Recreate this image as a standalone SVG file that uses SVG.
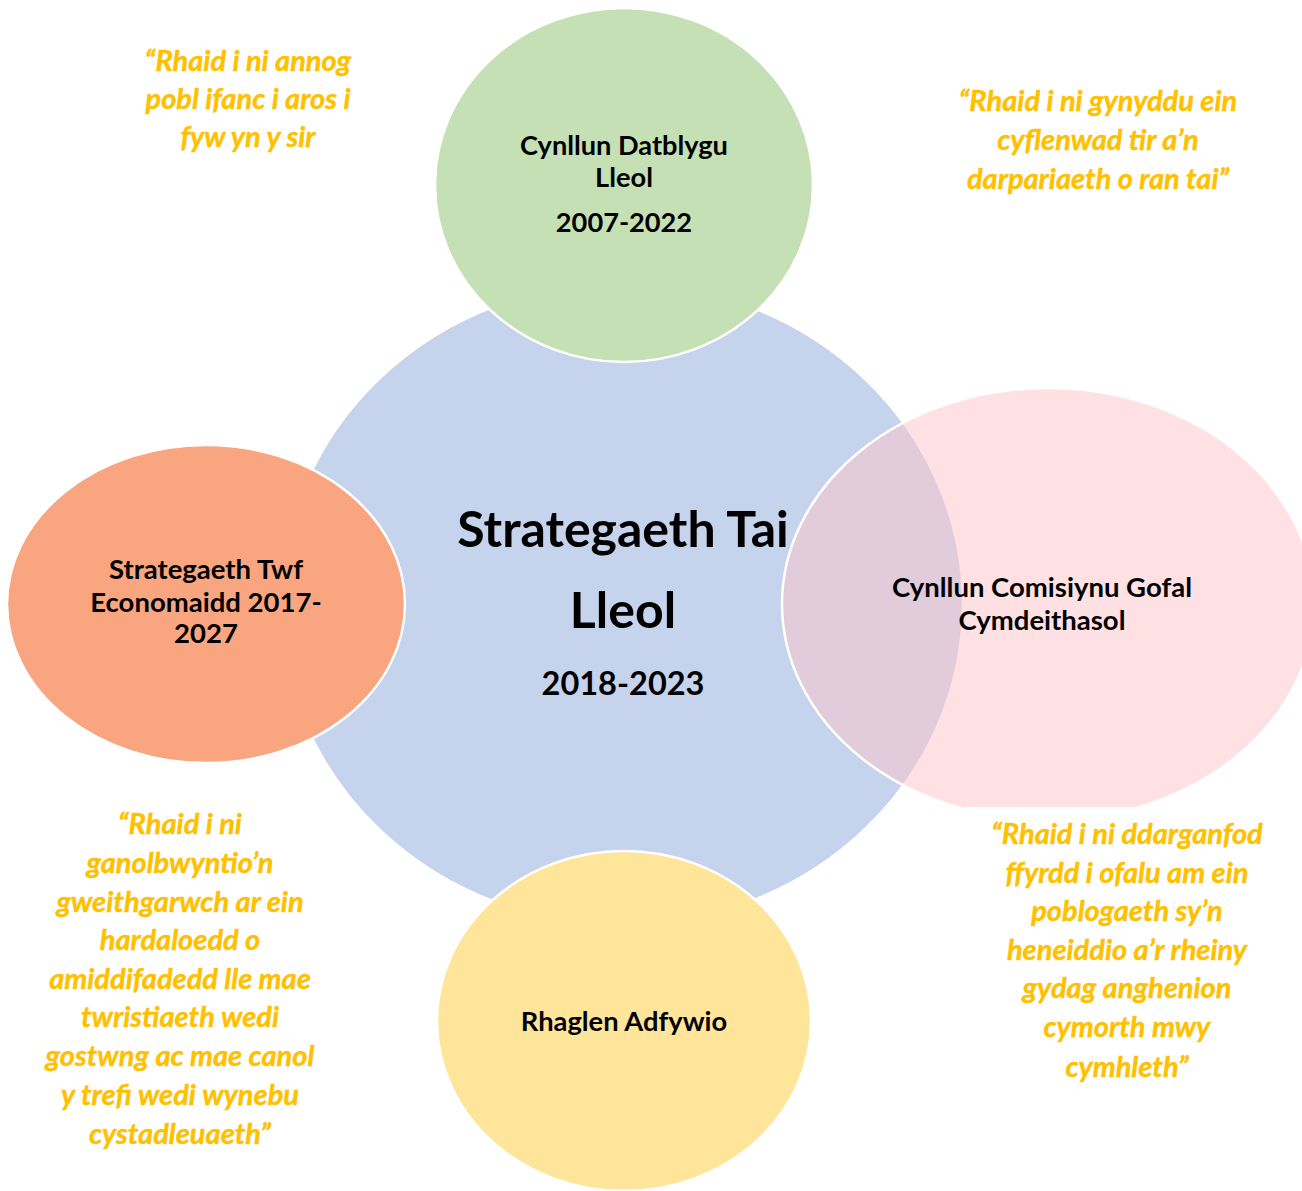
<svg xmlns="http://www.w3.org/2000/svg" width="1302" height="1191" viewBox="0 0 1302 1191">
<defs>
<style>
.node{stroke:#FFFFFF;stroke-width:2.5}
.lbl{font-family:Lato,"Open Sans","DejaVu Sans",sans-serif;font-weight:bold;fill:#000000;text-anchor:middle}
.q{font-family:Lato,"Open Sans","DejaVu Sans",sans-serif;font-weight:bold;font-style:italic;fill:#FFC000;text-anchor:middle;font-size:29px;stroke:#FFC000;stroke-width:0.4}
</style>
<clipPath id="cutPink"><path d="M0,0 H1302 V807 H965 V1191 H0 Z"/></clipPath>
</defs>
<rect width="1302" height="1191" fill="#FFFFFF"/>
<g id="connectors"></g>
<g id="node-central">
<ellipse class="node" cx="622" cy="604" rx="341" ry="321" fill="#C5D3ED" stroke="none"/>
<text class="lbl" x="623" y="547" font-size="50">Strategaeth Tai</text>
<text class="lbl" x="623" y="628" font-size="50">Lleol</text>
<text class="lbl" x="623" y="695" font-size="32.5">2018-2023</text>
</g>
<g id="node-ldp">
<ellipse class="node" cx="624" cy="185" rx="189" ry="177" fill="#C5E0B4"/>
<text class="lbl" x="624" y="155" font-size="27.2">Cynllun Datblygu</text>
<text class="lbl" x="624" y="187" font-size="27.2">Lleol</text>
<text class="lbl" x="624" y="232" font-size="27.2">2007-2022</text>
</g>
<g id="node-economic">
<ellipse class="node" cx="206" cy="604" rx="199" ry="159" fill="#F8A580"/>
<text class="lbl" x="206" y="579" font-size="27.5">Strategaeth Twf</text>
<text class="lbl" x="206" y="612" font-size="27.5">Economaidd 2017-</text>
<text class="lbl" x="206" y="643" font-size="27.5">2027</text>
</g>
<g id="node-regen">
<ellipse class="node" cx="624" cy="1021" rx="187" ry="170" fill="#FFE599"/>
<text class="lbl" x="624" y="1031" font-size="27.3">Rhaglen Adfywio</text>
</g>
<g id="node-social">
<ellipse class="node" cx="1048" cy="604" rx="266" ry="216" fill="#FFC4C8" fill-opacity="0.5" clip-path="url(#cutPink)"/>
<text class="lbl" x="1042" y="597" font-size="27.5">Cynllun Comisiynu Gofal</text>
<text class="lbl" x="1042" y="630" font-size="27.5">Cymdeithasol</text>
</g>
<g id="quote-topleft">
<text class="q" x="248" y="71">“Rhaid i ni annog</text>
<text class="q" x="248" y="109">pobl ifanc i aros i</text>
<text class="q" x="248" y="147">fyw yn y sir</text>
</g>
<g id="quote-topright">
<text class="q" x="1098" y="111">“Rhaid i ni gynyddu ein</text>
<text class="q" x="1098" y="150">cyflenwad tir a’n</text>
<text class="q" x="1098" y="189">darpariaeth o ran tai”</text>
</g>
<g id="quote-bottomleft">
<text class="q" x="180" y="834">“Rhaid i ni</text>
<text class="q" x="180" y="873">ganolbwyntio’n</text>
<text class="q" x="180" y="912">gweithgarwch ar ein</text>
<text class="q" x="180" y="950">hardaloedd o</text>
<text class="q" x="180" y="989">amiddifadedd lle mae</text>
<text class="q" x="180" y="1027">twristiaeth wedi</text>
<text class="q" x="180" y="1066">gostwng ac mae canol</text>
<text class="q" x="180" y="1105">y trefi wedi wynebu</text>
<text class="q" x="180" y="1144">cystadleuaeth”</text>
</g>
<g id="quote-bottomright">
<text class="q" x="1127" y="844">“Rhaid i ni ddarganfod</text>
<text class="q" x="1127" y="883">ffyrdd i ofalu am ein</text>
<text class="q" x="1127" y="921">poblogaeth sy’n</text>
<text class="q" x="1127" y="960">heneiddio a’r rheiny</text>
<text class="q" x="1127" y="998">gydag anghenion</text>
<text class="q" x="1127" y="1037">cymorth mwy</text>
<text class="q" x="1127" y="1077">cymhleth”</text>
</g>
</svg>
